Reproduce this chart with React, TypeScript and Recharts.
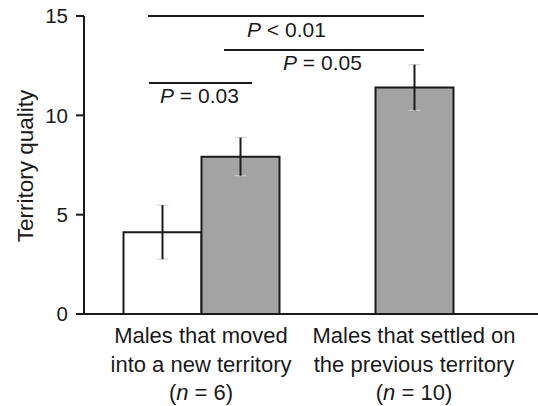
import React from "react";
import { BarChart, Bar, XAxis, YAxis, ErrorBar } from "recharts";

const categories = ["moved", "settled"];
const labelLine1 = ["Males that moved", "Males that settled on"];
const labelLine2 = ["into a new territory", "the previous territory"];
const sampleSizes = [6, 10];

const whiteMeans: (number | null)[] = [4.12, null];
const whiteErrors: (number | null)[] = [1.36, null];
const grayMeans = [7.92, 11.4];
const grayErrors = [0.96, 1.15];

const yTicks = [0, 5, 10, 15];

const comparisons = [
  { op: "<", p: "0.01" },
  { op: "=", p: "0.05" },
  { op: "=", p: "0.03" },
];

const data = categories.map((cat, i) => ({
  cat,
  white: whiteMeans[i],
  whiteErr: whiteErrors[i],
  grayPaired: whiteMeans[i] != null ? grayMeans[i] : null,
  grayPairedErr: whiteMeans[i] != null ? grayErrors[i] : null,
  graySingle: whiteMeans[i] == null ? grayMeans[i] : null,
  graySingleErr: whiteMeans[i] == null ? grayErrors[i] : null,
}));

const FONT = "'Liberation Sans', Arial, Helvetica, sans-serif";
const INK = "#1a1a1a";
const GRAY = "#a2a3a2";
const CAP = "#cfcfcf";

const XTick = (props: any) => {
  const { x, y, index } = props;
  return (
    <text x={x} y={y} textAnchor="middle" style={{ fontFamily: FONT, fontSize: 22 }} fill={INK}>
      <tspan x={x} dy={21}>{labelLine1[index]}</tspan>
      <tspan x={x} dy={28.5}>{labelLine2[index]}</tspan>
      <tspan x={x} dy={28.5}>
        (<tspan fontStyle="italic">n</tspan> = {sampleSizes[index]})
      </tspan>
    </text>
  );
};

const YLabel = (props: any) => {
  const vb = props.viewBox || { x: 0, y: 16, width: 84, height: 298 };
  const cx = 25;
  const cy = vb.y + vb.height / 2 + 1;
  return (
    <text
      x={cx}
      y={cy}
      transform={`rotate(-90 ${cx} ${cy})`}
      textAnchor="middle"
      dominantBaseline="central"
      style={{ fontFamily: FONT, fontSize: 22.5 }}
      fill={INK}
    >
      Territory quality
    </text>
  );
};

const bracketGeom = [
  { x1: 148, x2: 424, y: 16, tx: 247, ty: 37 },
  { x1: 224, x2: 424, y: 50, tx: 283, ty: 70 },
  { x1: 149, x2: 252, y: 83, tx: 160, ty: 103 },
];

const Brackets = () => (
  <g>
    {comparisons.map((c, i) => {
      const g = bracketGeom[i];
      return (
        <g key={i}>
          <line x1={g.x1} x2={g.x2} y1={g.y} y2={g.y} stroke={INK} strokeWidth={2} />
          <text x={g.tx} y={g.ty} style={{ fontFamily: FONT, fontSize: 21 }} fill={INK}>
            <tspan fontStyle="italic">P</tspan> {c.op} {c.p}
          </text>
        </g>
      );
    })}
  </g>
);

const pad = { left: 10.5, right: 17.5 };

export default function App() {
  return (
    <div style={{ position: "absolute", left: 0, top: 0, width: 538, height: 406, background: "#fff" }}>
      <BarChart
        width={538}
        height={406}
        data={data}
        margin={{ top: 16, right: 0, bottom: 0, left: 0 }}
        barGap={0}
        barSize={78}
      >
        <XAxis
          xAxisId="a"
          dataKey="cat"
          height={92}
          padding={pad}
          axisLine={{ stroke: INK, strokeWidth: 2 }}
          tickLine={false}
          tick={<XTick />}
          interval={0}
        />
        <XAxis xAxisId="b" dataKey="cat" hide padding={pad} />
        <YAxis
          width={84}
          domain={[0, 15]}
          ticks={yTicks}
          interval={0}
          axisLine={{ stroke: INK, strokeWidth: 2 }}
          tickLine={{ stroke: INK, strokeWidth: 2 }}
          tickSize={8}
          tickMargin={8}
          tick={{ fill: INK, fontSize: 20.5, fontFamily: FONT }}
          label={<YLabel />}
        />
        <Bar xAxisId="a" dataKey="white" fill="#ffffff" stroke={INK} strokeWidth={2} isAnimationActive={false}>
          <ErrorBar dataKey={(d: any) => d.whiteErr} width={6} stroke={CAP} strokeWidth={1} />
          <ErrorBar dataKey="whiteErr" width={0.01} stroke={INK} strokeWidth={2} />
        </Bar>
        <Bar xAxisId="a" dataKey="grayPaired" fill={GRAY} stroke={INK} strokeWidth={2} isAnimationActive={false}>
          <ErrorBar dataKey={(d: any) => d.grayPairedErr} width={6} stroke={CAP} strokeWidth={1} />
          <ErrorBar dataKey="grayPairedErr" width={0.01} stroke={INK} strokeWidth={2} />
        </Bar>
        <Bar xAxisId="b" dataKey="graySingle" fill={GRAY} stroke={INK} strokeWidth={2} isAnimationActive={false}>
          <ErrorBar dataKey={(d: any) => d.graySingleErr} width={6} stroke={CAP} strokeWidth={1} />
          <ErrorBar dataKey="graySingleErr" width={0.01} stroke={INK} strokeWidth={2} />
        </Bar>
        <Brackets />
      </BarChart>
    </div>
  );
}
